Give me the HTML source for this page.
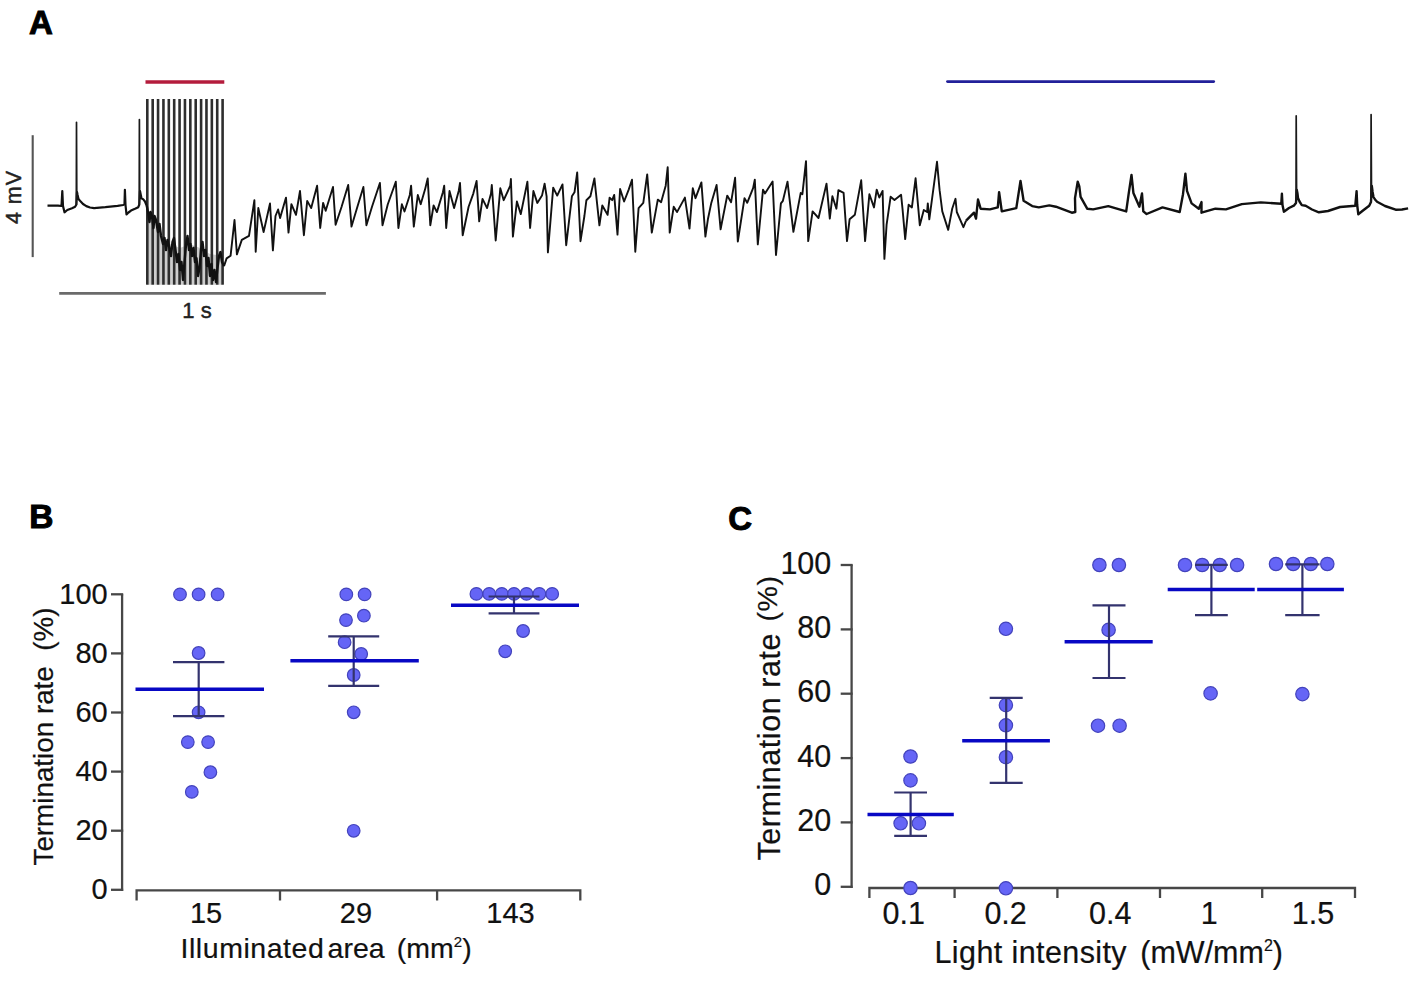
<!DOCTYPE html>
<html><head><meta charset="utf-8"><title>Figure</title>
<style>
html,body{margin:0;padding:0;background:#fff;}
body{width:1417px;height:984px;overflow:hidden;font-family:"Liberation Sans",sans-serif;}
svg{display:block;}
</style></head><body>
<svg width="1417" height="984" viewBox="0 0 1417 984">
<rect width="1417" height="984" fill="#fff"/>
<text x="28.9" y="34.2" font-family="Liberation Sans, sans-serif" font-weight="bold" font-size="33" fill="#000" stroke="#000" stroke-width="1">A</text>
<line x1="145.5" y1="82" x2="224.3" y2="82" stroke="#b41c3c" stroke-width="3.3"/>
<line x1="947.5" y1="81.6" x2="1213.7" y2="81.6" stroke="#22209a" stroke-width="2.8" stroke-linecap="round"/>
<polygon points="147,216 156,220 163,236 170,244 180,248 190,244 200,248 210,254 223,256 223,284.7 147,284.7" fill="#cdcdcd"/>
<line x1="147.30" y1="99" x2="147.30" y2="284.7" stroke="#2e2e2e" stroke-width="2.6"/>
<line x1="152.68" y1="99" x2="152.68" y2="284.7" stroke="#2e2e2e" stroke-width="2.6"/>
<line x1="158.06" y1="99" x2="158.06" y2="284.7" stroke="#2e2e2e" stroke-width="2.6"/>
<line x1="163.44" y1="99" x2="163.44" y2="284.7" stroke="#2e2e2e" stroke-width="2.6"/>
<line x1="168.81" y1="99" x2="168.81" y2="284.7" stroke="#2e2e2e" stroke-width="2.6"/>
<line x1="174.19" y1="99" x2="174.19" y2="284.7" stroke="#2e2e2e" stroke-width="2.6"/>
<line x1="179.57" y1="99" x2="179.57" y2="284.7" stroke="#2e2e2e" stroke-width="2.6"/>
<line x1="184.95" y1="99" x2="184.95" y2="284.7" stroke="#2e2e2e" stroke-width="2.6"/>
<line x1="190.33" y1="99" x2="190.33" y2="284.7" stroke="#2e2e2e" stroke-width="2.6"/>
<line x1="195.71" y1="99" x2="195.71" y2="284.7" stroke="#2e2e2e" stroke-width="2.6"/>
<line x1="201.09" y1="99" x2="201.09" y2="284.7" stroke="#2e2e2e" stroke-width="2.6"/>
<line x1="206.46" y1="99" x2="206.46" y2="284.7" stroke="#2e2e2e" stroke-width="2.6"/>
<line x1="211.84" y1="99" x2="211.84" y2="284.7" stroke="#2e2e2e" stroke-width="2.6"/>
<line x1="217.22" y1="99" x2="217.22" y2="284.7" stroke="#2e2e2e" stroke-width="2.6"/>
<line x1="222.60" y1="99" x2="222.60" y2="284.7" stroke="#2e2e2e" stroke-width="2.6"/>
<polyline points="47.5,205.6 58,205.6 61.5,206 62.3,191 63,206 64.5,212.3 67.3,210 72,208.2 75.1,206.7 76.4,204.5 77,192 77.6,195 78.5,199 80.7,201.6 83,204 86.3,206.1 90,207.5 94.1,208.1 105.3,207.2 117.6,205.9 123.2,205 124.5,204 124.9,189.9 125.5,205 126.5,214.5 128.5,212.5 131,210.6 135,208.8 138.3,207.2 139.3,204.5 140,191 140.8,195 141.5,198.3 143.3,199.4 145,201.5 146.8,206" fill="none" stroke="#111" stroke-width="2.2" stroke-linejoin="round"/>
<polyline points="146.8,206 148,212 149.5,222 150.5,212 152,216 153.5,228 154.5,216 156,220 158,232 159.5,224 161,236 163,244 164.5,238 166,250 167.5,240 169,246 171,256 172.5,242 174,238 175.5,250 177,262 178.5,254 180,270 181.5,262 183,280 184.5,262 186,245 187.5,236 189,250 190.5,244 192,256 193.5,248 195,262 196.5,258 198,276 199.5,268 201,250 202.5,242 204,256 205.5,250 207,266 208.5,258 210,276 211.5,264 213,280 214.5,270 216,282 217.5,268 219,256 220.5,252 222,262 224,266.1" fill="none" stroke="#111" stroke-width="2.4" stroke-linejoin="round"/>
<polyline points="224,266.1 226.6,258.4 230.6,255.7 234.5,220 236.9,254.4 241.8,239.9 249,235.9 254.4,200.2 255.7,251.8 258.3,208 263.6,232 270,203.5 272.9,250.4 275.5,216 278.1,209.5 280.1,218 286,197.6 288.5,232.6 291.4,204.2 296,214.8 300,191 303.9,235.2 307.2,200.9 311.2,208.1 317.1,185.7 320.2,228 323.1,202.9 325.7,210.8 333,187 335.6,224.7 341.6,206.8 348.2,185 351.5,226.6 357.4,206.8 363.4,187 366.4,225.3 372,206.8 379.9,183 382.5,225.3 387.8,204.2 395.8,181.7 398.4,228 401.9,204.2 404.5,211.5 409.8,195 411.1,185.7 413.8,226.6 417.8,195 420.7,204.2 425,189.6 427.7,178.4 430.3,225.3 433.6,205.5 436.9,212.1 442.9,192.3 444.2,185.7 446.2,228 449.5,191 454.1,208.1 458.7,191 460,183 462.7,235.2 468.6,206.8 473.3,193.6 476.6,181 479.2,221.4 482.5,198.9 487.1,208.1 491,193.6 491.8,185 495.7,240.5 500.3,188.3 503.7,200.2 510.3,185.7 510.9,179 512.9,236.6 516.9,201.5 520.8,214.1 527.4,181.7 530.1,228 533.4,191 537.3,202.9 542,195.6 544.6,183.7 546.6,196.3 547.9,252.4 553.2,187.7 557.2,195.6 562.5,184.4 566.2,245.2 571.9,196.3 574.5,192.3 577.2,172.5 580.5,241.2 584.4,216 586.4,200.2 590.4,196.3 594.4,178.4 599.4,225.3 602.3,205.5 607.6,214.8 609.6,197.6 612.2,200.2 614.2,194.9 617.5,234.6 620.1,189 624.1,201.5 628.7,189.6 632,179.7 635.3,251.8 638.6,208.1 643.3,202.9 647.2,174.4 651.8,232.6 657.8,199.6 661.1,202.2 665.7,185.7 667.7,167.2 669.7,232.6 673.7,206.8 677,212.1 684.9,197.6 689.5,228.6 692.8,188.3 695.5,198.2 701.4,182.4 705.4,236.6 708,218.7 711.3,202.9 716.6,185 720.6,229.3 727.2,195.6 731.1,202.2 735.1,177.8 737.8,241.5 744.5,198.1 747.2,202.8 753.1,188.2 754.8,179.6 757.8,244.4 763,189.6 765,193.5 772.6,181.6 776,255 780.9,203.4 782.9,200.8 787.5,181.6 793.4,231.8 800.7,192.9 802.4,194.2 806,161.1 808.2,241.1 812.6,211.4 818.5,218 826.5,183.6 829.8,218.6 832.4,196.2 836.4,208.7 838.4,190.2 843.6,192.9 847,241.1 849.6,219.3 854.9,214.7 861.2,180.3 865.1,241.1 869.4,194.2 874,207.4 876.7,189.6 879.3,197.5 882.6,190.9 884.4,258.9 886.6,224.6 890.6,196.8 894.5,200.1 901.1,194.8 902.5,208.7 905.2,239.1 908.6,204.8 911.9,207.4 915.6,178.3 919.8,225.2 923.8,210 927.1,212 927.8,203.4 929.3,219.3 937,161.8 939.6,190.2 942.3,211.4 948.2,229.9 952.2,208.7 955.5,198.8 956.8,212 963.4,227.2 966.1,220.6" fill="none" stroke="#111" stroke-width="1.9" stroke-linejoin="round"/>
<polyline points="966.1,220.6 974,212.7 976,218.6 978,199.5 980.6,208.7 989.9,209.4 997.8,207.4 999.1,192.2 1001.8,211.4 1016.3,208.1 1020.5,181 1023.6,200.8 1032.2,206.1 1038.8,207.4 1049.3,205.4 1055.9,206.7 1071.8,212.7 1075.3,212 1075,198.1 1077.7,181.6 1079.3,186.3 1080.6,196.8 1087.2,208.7 1093.1,209.4 1108.3,206.1 1126.2,211.4 1128.8,192.9 1131.5,175 1133.4,192.9 1139.4,206.7 1142,193.5 1143.3,211.4 1146.6,214 1162.5,207.4 1179.7,212 1183,194.2 1185.4,173.7 1187,190.9 1191.6,203.4 1198.8,208.7 1201.5,202.1 1201.5,212.7 1215.4,208.7 1225.9,209.4 1241.8,204.1 1260.8,202.4 1281.3,203.7 1281.9,193.8 1282.5,205 1283.9,211.7 1289,208 1293.8,205.7 1296,203 1296.8,189.9 1297.4,193 1298,198 1299.5,201.5 1301.8,205.1 1305.7,205.7 1312,209.5 1318.9,212.3 1328,211 1340.1,207 1355.3,205.7 1356.6,191.2 1357.2,205 1358.3,214.3 1363,210.5 1369.2,205.7 1371,202 1371.8,186 1372.6,192 1373.5,197 1375,199.5 1377.1,201.8 1385,206 1395.6,209.7 1402,209.5 1408.1,208.4" fill="none" stroke="#111" stroke-width="2.4" stroke-linejoin="round"/>
<polyline points="76.3,205 76.5,122.3 76.8,200" fill="none" stroke="#1a1a1a" stroke-width="1.7" stroke-linejoin="round"/>
<polyline points="139.2,205 139.4,119.5 139.7,198" fill="none" stroke="#1a1a1a" stroke-width="1.7" stroke-linejoin="round"/>
<polyline points="1296,204 1296.2,115.9 1296.6,192" fill="none" stroke="#1a1a1a" stroke-width="1.7" stroke-linejoin="round"/>
<polyline points="1370.9,203 1371.1,114.5 1371.5,190" fill="none" stroke="#1a1a1a" stroke-width="1.7" stroke-linejoin="round"/>
<line x1="32.7" y1="135.2" x2="32.7" y2="257.1" stroke="#555" stroke-width="2.1"/>
<line x1="59.2" y1="293.4" x2="325.9" y2="293.4" stroke="#6a6a6a" stroke-width="2.6"/>
<text transform="translate(20.6,197) rotate(-90)" text-anchor="middle" font-family="Liberation Sans, sans-serif" font-size="21.5" letter-spacing="1" fill="#222" stroke="#222" stroke-width="0.5">4 mV</text>
<text x="197" y="318" text-anchor="middle" font-family="Liberation Sans, sans-serif" font-size="22" fill="#222" stroke="#222" stroke-width="0.45">1 s</text>
<text x="29.3" y="527.7" font-family="Liberation Sans, sans-serif" font-weight="bold" font-size="33.5" fill="#000" stroke="#000" stroke-width="1">B</text>
<polyline points="122.1,594.3 122.1,891" fill="none" stroke="#474747" stroke-width="2.3"/>
<line x1="111" y1="889.8" x2="123.2" y2="889.8" stroke="#474747" stroke-width="2.3"/>
<text x="107.7" y="899.2" text-anchor="end" font-family="Liberation Sans, sans-serif" font-size="29" fill="#111" stroke="#111" stroke-width="0.2">0</text>
<line x1="111" y1="830.7" x2="123.2" y2="830.7" stroke="#474747" stroke-width="2.3"/>
<text x="107.7" y="840.1" text-anchor="end" font-family="Liberation Sans, sans-serif" font-size="29" fill="#111" stroke="#111" stroke-width="0.2">20</text>
<line x1="111" y1="771.6" x2="123.2" y2="771.6" stroke="#474747" stroke-width="2.3"/>
<text x="107.7" y="781.0" text-anchor="end" font-family="Liberation Sans, sans-serif" font-size="29" fill="#111" stroke="#111" stroke-width="0.2">40</text>
<line x1="111" y1="712.5" x2="123.2" y2="712.5" stroke="#474747" stroke-width="2.3"/>
<text x="107.7" y="721.9" text-anchor="end" font-family="Liberation Sans, sans-serif" font-size="29" fill="#111" stroke="#111" stroke-width="0.2">60</text>
<line x1="111" y1="653.4" x2="123.2" y2="653.4" stroke="#474747" stroke-width="2.3"/>
<text x="107.7" y="662.8" text-anchor="end" font-family="Liberation Sans, sans-serif" font-size="29" fill="#111" stroke="#111" stroke-width="0.2">80</text>
<line x1="111" y1="594.3" x2="123.2" y2="594.3" stroke="#474747" stroke-width="2.3"/>
<text x="107.7" y="603.7" text-anchor="end" font-family="Liberation Sans, sans-serif" font-size="29" fill="#111" stroke="#111" stroke-width="0.2">100</text>
<polyline points="136.6,900.5 136.6,890.3 580.3,890.3 580.3,900.5" fill="none" stroke="#474747" stroke-width="2.3"/>
<line x1="280" y1="890.3" x2="280" y2="900.5" stroke="#474747" stroke-width="2.3"/>
<line x1="437.1" y1="890.3" x2="437.1" y2="900.5" stroke="#474747" stroke-width="2.3"/>
<text x="206.1" y="922.6" text-anchor="middle" font-family="Liberation Sans, sans-serif" font-size="29" fill="#111" stroke="#111" stroke-width="0.2">15</text>
<text x="356" y="922.6" text-anchor="middle" font-family="Liberation Sans, sans-serif" font-size="29" fill="#111" stroke="#111" stroke-width="0.2">29</text>
<text x="510.5" y="922.6" text-anchor="middle" font-family="Liberation Sans, sans-serif" font-size="29" fill="#111" stroke="#111" stroke-width="0.2">143</text>
<text x="180.5" y="957.7" font-family="Liberation Sans, sans-serif" font-size="28.5" fill="#111" stroke="#111" stroke-width="0.2" xml:space="preserve"><tspan letter-spacing="0.55">Illuminated</tspan><tspan x="327.6">area</tspan><tspan x="396.8">(mm</tspan><tspan font-size="15" dy="-11">2</tspan><tspan dy="11">)</tspan></text>
<text transform="translate(53,865.5) rotate(-90)" font-family="Liberation Sans, sans-serif" font-size="27.8" fill="#111" stroke="#111" stroke-width="0.2" xml:space="preserve">Termination rate  (%)</text>
<circle cx="180.0" cy="594.4" r="6.3" fill="#6565f6" stroke="#4343bc" stroke-width="1.2"/>
<circle cx="198.6" cy="594.4" r="6.3" fill="#6565f6" stroke="#4343bc" stroke-width="1.2"/>
<circle cx="217.6" cy="594.4" r="6.3" fill="#6565f6" stroke="#4343bc" stroke-width="1.2"/>
<circle cx="198.6" cy="653.0" r="6.3" fill="#6565f6" stroke="#4343bc" stroke-width="1.2"/>
<circle cx="198.6" cy="712.3" r="6.3" fill="#6565f6" stroke="#4343bc" stroke-width="1.2"/>
<circle cx="187.8" cy="742.1" r="6.3" fill="#6565f6" stroke="#4343bc" stroke-width="1.2"/>
<circle cx="208.1" cy="742.1" r="6.3" fill="#6565f6" stroke="#4343bc" stroke-width="1.2"/>
<circle cx="210.4" cy="772.2" r="6.3" fill="#6565f6" stroke="#4343bc" stroke-width="1.2"/>
<circle cx="191.8" cy="791.9" r="6.3" fill="#6565f6" stroke="#4343bc" stroke-width="1.2"/>
<line x1="173.0" y1="662.2" x2="224.4" y2="662.2" stroke="#33336e" stroke-width="2.2"/>
<line x1="173.0" y1="716.2" x2="224.4" y2="716.2" stroke="#33336e" stroke-width="2.2"/>
<line x1="198.7" y1="662.2" x2="198.7" y2="716.2" stroke="#33336e" stroke-width="2.2"/>
<line x1="135.5" y1="689.2" x2="264.0" y2="689.2" stroke="#0808c4" stroke-width="3.4"/>
<circle cx="346.3" cy="594.4" r="6.3" fill="#6565f6" stroke="#4343bc" stroke-width="1.2"/>
<circle cx="364.6" cy="594.4" r="6.3" fill="#6565f6" stroke="#4343bc" stroke-width="1.2"/>
<circle cx="346.0" cy="620.1" r="6.3" fill="#6565f6" stroke="#4343bc" stroke-width="1.2"/>
<circle cx="363.9" cy="615.7" r="6.3" fill="#6565f6" stroke="#4343bc" stroke-width="1.2"/>
<circle cx="344.6" cy="642.2" r="6.3" fill="#6565f6" stroke="#4343bc" stroke-width="1.2"/>
<circle cx="361.2" cy="654.0" r="6.3" fill="#6565f6" stroke="#4343bc" stroke-width="1.2"/>
<circle cx="353.7" cy="675.0" r="6.3" fill="#6565f6" stroke="#4343bc" stroke-width="1.2"/>
<circle cx="353.7" cy="712.3" r="6.3" fill="#6565f6" stroke="#4343bc" stroke-width="1.2"/>
<circle cx="353.7" cy="830.8" r="6.3" fill="#6565f6" stroke="#4343bc" stroke-width="1.2"/>
<line x1="328.2" y1="636.4" x2="379.2" y2="636.4" stroke="#33336e" stroke-width="2.2"/>
<line x1="328.2" y1="685.9" x2="379.2" y2="685.9" stroke="#33336e" stroke-width="2.2"/>
<line x1="353.7" y1="636.4" x2="353.7" y2="685.9" stroke="#33336e" stroke-width="2.2"/>
<line x1="290.4" y1="660.8" x2="418.8" y2="660.8" stroke="#0808c4" stroke-width="3.4"/>
<circle cx="476.4" cy="593.9" r="6.3" fill="#6565f6" stroke="#4343bc" stroke-width="1.2"/>
<circle cx="489.2" cy="593.9" r="6.3" fill="#6565f6" stroke="#4343bc" stroke-width="1.2"/>
<circle cx="501.8" cy="593.9" r="6.3" fill="#6565f6" stroke="#4343bc" stroke-width="1.2"/>
<circle cx="514.0" cy="593.9" r="6.3" fill="#6565f6" stroke="#4343bc" stroke-width="1.2"/>
<circle cx="526.5" cy="593.9" r="6.3" fill="#6565f6" stroke="#4343bc" stroke-width="1.2"/>
<circle cx="539.4" cy="593.9" r="6.3" fill="#6565f6" stroke="#4343bc" stroke-width="1.2"/>
<circle cx="552.2" cy="593.9" r="6.3" fill="#6565f6" stroke="#4343bc" stroke-width="1.2"/>
<circle cx="523.1" cy="631.0" r="6.3" fill="#6565f6" stroke="#4343bc" stroke-width="1.2"/>
<circle cx="505.2" cy="651.3" r="6.3" fill="#6565f6" stroke="#4343bc" stroke-width="1.2"/>
<line x1="488.6" y1="596.5" x2="539.4" y2="596.5" stroke="#33336e" stroke-width="2.2"/>
<line x1="488.6" y1="613.4" x2="539.4" y2="613.4" stroke="#33336e" stroke-width="2.2"/>
<line x1="514.0" y1="596.5" x2="514.0" y2="613.4" stroke="#33336e" stroke-width="2.2"/>
<line x1="451.0" y1="605.2" x2="579.0" y2="605.2" stroke="#0808c4" stroke-width="3.4"/>
<text x="728.2" y="529.5" font-family="Liberation Sans, sans-serif" font-weight="bold" font-size="33" fill="#000" stroke="#000" stroke-width="1">C</text>
<polyline points="851.6,564.5 851.6,888" fill="none" stroke="#474747" stroke-width="2.3"/>
<line x1="840.7" y1="886.8" x2="852.6" y2="886.8" stroke="#474747" stroke-width="2.3"/>
<text x="831.3" y="895.3" text-anchor="end" font-family="Liberation Sans, sans-serif" font-size="30.5" fill="#111" stroke="#111" stroke-width="0.2">0</text>
<line x1="840.7" y1="822.4" x2="852.6" y2="822.4" stroke="#474747" stroke-width="2.3"/>
<text x="831.3" y="830.9" text-anchor="end" font-family="Liberation Sans, sans-serif" font-size="30.5" fill="#111" stroke="#111" stroke-width="0.2">20</text>
<line x1="840.7" y1="758.1" x2="852.6" y2="758.1" stroke="#474747" stroke-width="2.3"/>
<text x="831.3" y="766.6" text-anchor="end" font-family="Liberation Sans, sans-serif" font-size="30.5" fill="#111" stroke="#111" stroke-width="0.2">40</text>
<line x1="840.7" y1="693.7" x2="852.6" y2="693.7" stroke="#474747" stroke-width="2.3"/>
<text x="831.3" y="702.2" text-anchor="end" font-family="Liberation Sans, sans-serif" font-size="30.5" fill="#111" stroke="#111" stroke-width="0.2">60</text>
<line x1="840.7" y1="629.4" x2="852.6" y2="629.4" stroke="#474747" stroke-width="2.3"/>
<text x="831.3" y="637.9" text-anchor="end" font-family="Liberation Sans, sans-serif" font-size="30.5" fill="#111" stroke="#111" stroke-width="0.2">80</text>
<line x1="840.7" y1="565.0" x2="852.6" y2="565.0" stroke="#474747" stroke-width="2.3"/>
<text x="831.3" y="573.5" text-anchor="end" font-family="Liberation Sans, sans-serif" font-size="30.5" fill="#111" stroke="#111" stroke-width="0.2">100</text>
<polyline points="869.4,898 869.4,888 1355,888 1355,898" fill="none" stroke="#474747" stroke-width="2.3"/>
<line x1="954.6" y1="888" x2="954.6" y2="898" stroke="#474747" stroke-width="2.3"/>
<line x1="1057.4" y1="888" x2="1057.4" y2="898" stroke="#474747" stroke-width="2.3"/>
<line x1="1160" y1="888" x2="1160" y2="898" stroke="#474747" stroke-width="2.3"/>
<line x1="1262.2" y1="888" x2="1262.2" y2="898" stroke="#474747" stroke-width="2.3"/>
<text x="903.7" y="924" text-anchor="middle" font-family="Liberation Sans, sans-serif" font-size="30.5" fill="#111" stroke="#111" stroke-width="0.2">0.1</text>
<text x="1005.6" y="924" text-anchor="middle" font-family="Liberation Sans, sans-serif" font-size="30.5" fill="#111" stroke="#111" stroke-width="0.2">0.2</text>
<text x="1110.2" y="924" text-anchor="middle" font-family="Liberation Sans, sans-serif" font-size="30.5" fill="#111" stroke="#111" stroke-width="0.2">0.4</text>
<text x="1209.3" y="924" text-anchor="middle" font-family="Liberation Sans, sans-serif" font-size="30.5" fill="#111" stroke="#111" stroke-width="0.2">1</text>
<text x="1313" y="924" text-anchor="middle" font-family="Liberation Sans, sans-serif" font-size="30.5" fill="#111" stroke="#111" stroke-width="0.2">1.5</text>
<text x="934.5" y="962.6" font-family="Liberation Sans, sans-serif" font-size="30.5" fill="#111" stroke="#111" stroke-width="0.2" xml:space="preserve"><tspan letter-spacing="0.4">Light intensity</tspan><tspan x="1140.3">(mW/mm</tspan><tspan font-size="16" dy="-12">2</tspan><tspan dy="12">)</tspan></text>
<text transform="translate(780.3,860.5) rotate(-90)" font-family="Liberation Sans, sans-serif" font-size="30.5" letter-spacing="0.55" fill="#111" stroke="#111" stroke-width="0.2" xml:space="preserve">Termination rate <tspan font-size="28.5" dx="2.5" dy="-3.2">(%)</tspan></text>
<circle cx="910.5" cy="756.5" r="6.7" fill="#6565f6" stroke="#4343bc" stroke-width="1.2"/>
<circle cx="910.5" cy="780.4" r="6.7" fill="#6565f6" stroke="#4343bc" stroke-width="1.2"/>
<circle cx="900.6" cy="823.3" r="6.7" fill="#6565f6" stroke="#4343bc" stroke-width="1.2"/>
<circle cx="918.9" cy="823.3" r="6.7" fill="#6565f6" stroke="#4343bc" stroke-width="1.2"/>
<circle cx="910.5" cy="888.0" r="6.7" fill="#6565f6" stroke="#4343bc" stroke-width="1.2"/>
<line x1="894.2" y1="792.5" x2="927.0" y2="792.5" stroke="#33336e" stroke-width="2.2"/>
<line x1="894.2" y1="835.8" x2="927.0" y2="835.8" stroke="#33336e" stroke-width="2.2"/>
<line x1="910.6" y1="792.5" x2="910.6" y2="835.8" stroke="#33336e" stroke-width="2.2"/>
<line x1="867.5" y1="814.5" x2="953.8" y2="814.5" stroke="#0808c4" stroke-width="3.4"/>
<circle cx="1005.9" cy="628.8" r="6.7" fill="#6565f6" stroke="#4343bc" stroke-width="1.2"/>
<circle cx="1005.9" cy="705.1" r="6.7" fill="#6565f6" stroke="#4343bc" stroke-width="1.2"/>
<circle cx="1005.9" cy="725.3" r="6.7" fill="#6565f6" stroke="#4343bc" stroke-width="1.2"/>
<circle cx="1005.9" cy="757.2" r="6.7" fill="#6565f6" stroke="#4343bc" stroke-width="1.2"/>
<circle cx="1005.9" cy="888.3" r="6.7" fill="#6565f6" stroke="#4343bc" stroke-width="1.2"/>
<line x1="989.7" y1="697.8" x2="1022.7" y2="697.8" stroke="#33336e" stroke-width="2.2"/>
<line x1="989.7" y1="782.9" x2="1022.7" y2="782.9" stroke="#33336e" stroke-width="2.2"/>
<line x1="1006.2" y1="697.8" x2="1006.2" y2="782.9" stroke="#33336e" stroke-width="2.2"/>
<line x1="962.2" y1="740.7" x2="1049.9" y2="740.7" stroke="#0808c4" stroke-width="3.4"/>
<circle cx="1099.4" cy="565.0" r="6.7" fill="#6565f6" stroke="#4343bc" stroke-width="1.2"/>
<circle cx="1118.9" cy="565.0" r="6.7" fill="#6565f6" stroke="#4343bc" stroke-width="1.2"/>
<circle cx="1108.6" cy="629.9" r="6.7" fill="#6565f6" stroke="#4343bc" stroke-width="1.2"/>
<circle cx="1098.0" cy="725.7" r="6.7" fill="#6565f6" stroke="#4343bc" stroke-width="1.2"/>
<circle cx="1119.6" cy="725.7" r="6.7" fill="#6565f6" stroke="#4343bc" stroke-width="1.2"/>
<line x1="1092.5" y1="605.3" x2="1125.5" y2="605.3" stroke="#33336e" stroke-width="2.2"/>
<line x1="1092.5" y1="678.0" x2="1125.5" y2="678.0" stroke="#33336e" stroke-width="2.2"/>
<line x1="1109.0" y1="605.3" x2="1109.0" y2="678.0" stroke="#33336e" stroke-width="2.2"/>
<line x1="1064.6" y1="641.7" x2="1152.7" y2="641.7" stroke="#0808c4" stroke-width="3.4"/>
<circle cx="1185.0" cy="565.0" r="6.7" fill="#6565f6" stroke="#4343bc" stroke-width="1.2"/>
<circle cx="1202.2" cy="565.0" r="6.7" fill="#6565f6" stroke="#4343bc" stroke-width="1.2"/>
<circle cx="1219.8" cy="565.0" r="6.7" fill="#6565f6" stroke="#4343bc" stroke-width="1.2"/>
<circle cx="1237.1" cy="565.0" r="6.7" fill="#6565f6" stroke="#4343bc" stroke-width="1.2"/>
<circle cx="1210.6" cy="693.4" r="6.7" fill="#6565f6" stroke="#4343bc" stroke-width="1.2"/>
<line x1="1195.0" y1="564.8" x2="1227.8" y2="564.8" stroke="#33336e" stroke-width="2.2"/>
<line x1="1195.0" y1="615.2" x2="1227.8" y2="615.2" stroke="#33336e" stroke-width="2.2"/>
<line x1="1211.4" y1="564.8" x2="1211.4" y2="615.2" stroke="#33336e" stroke-width="2.2"/>
<line x1="1167.7" y1="589.5" x2="1254.7" y2="589.5" stroke="#0808c4" stroke-width="3.4"/>
<circle cx="1276.0" cy="564.0" r="6.7" fill="#6565f6" stroke="#4343bc" stroke-width="1.2"/>
<circle cx="1293.2" cy="564.0" r="6.7" fill="#6565f6" stroke="#4343bc" stroke-width="1.2"/>
<circle cx="1310.8" cy="564.0" r="6.7" fill="#6565f6" stroke="#4343bc" stroke-width="1.2"/>
<circle cx="1327.3" cy="564.0" r="6.7" fill="#6565f6" stroke="#4343bc" stroke-width="1.2"/>
<circle cx="1302.4" cy="694.1" r="6.7" fill="#6565f6" stroke="#4343bc" stroke-width="1.2"/>
<line x1="1285.2" y1="564.3" x2="1319.6" y2="564.3" stroke="#33336e" stroke-width="2.2"/>
<line x1="1285.2" y1="615.2" x2="1319.6" y2="615.2" stroke="#33336e" stroke-width="2.2"/>
<line x1="1302.4" y1="564.3" x2="1302.4" y2="615.2" stroke="#33336e" stroke-width="2.2"/>
<line x1="1257.2" y1="589.5" x2="1343.9" y2="589.5" stroke="#0808c4" stroke-width="3.4"/>
</svg>
</body></html>
